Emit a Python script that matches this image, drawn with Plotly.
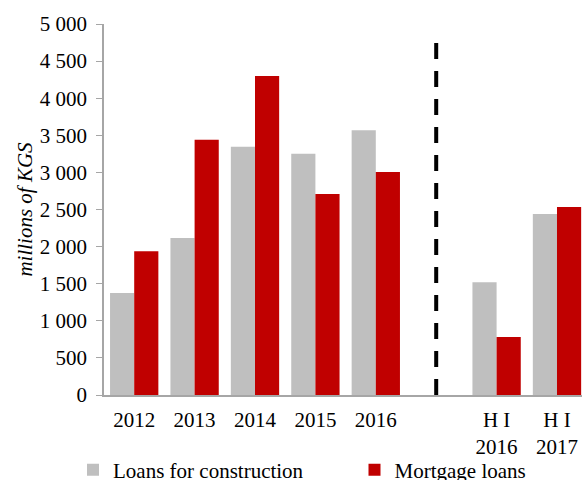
import plotly.graph_objects as go

categories = ["2012", "2013", "2014", "2015", "2016", "", "H I<br>2016", "H I<br>2017"]
construction = [1375, 2116, 3346, 3252, 3567, None, 1519, 2439]
mortgage = [1937, 3440, 4299, 2709, 3005, None, 782, 2534]
y_ticks = [0, 500, 1000, 1500, 2000, 2500, 3000, 3500, 4000, 4500, 5000]
y_tick_text = ["0", "500", "1 000", "1 500", "2 000", "2 500", "3 000", "3 500", "4 000", "4 500", "5 000"]
divider_index = 5
divider_top = 4780

xpos = list(range(len(categories)))
font = "Liberation Serif, Times New Roman, serif"
fs = 21
W, H = 582, 480

fig = go.Figure()
fig.add_trace(go.Bar(x=xpos, y=construction, name="Loans for construction",
                     marker=dict(color="#BFBFBF", line=dict(width=0)), legend="legend"))
fig.add_trace(go.Bar(x=xpos, y=mortgage, name="Mortgage loans",
                     marker=dict(color="#C00000", line=dict(width=0)), legend="legend2"))

fig.add_shape(type="line", xref="x", yref="y", x0=divider_index, x1=divider_index,
              y0=0, y1=divider_top, line=dict(color="black", width=4, dash="16px,12px"))

leg_common = dict(orientation="h", yref="container", y=10 / H, yanchor="middle",
                  xref="container", xanchor="left", font=dict(size=fs),
                  itemwidth=30, bgcolor="rgba(0,0,0,0)")

fig.update_layout(
    width=W, height=H,
    margin=dict(l=104, r=0, t=24, b=85, autoexpand=False),
    paper_bgcolor="white", plot_bgcolor="white",
    barmode="group", bargap=0.2, bargroupgap=0,
    font=dict(family=font, size=fs, color="black"),
    showlegend=True,
    legend=dict(x=73 / W, **leg_common),
    legend2=dict(x=354.5 / W, **leg_common),
    xaxis=dict(tickmode="array", tickvals=xpos, ticktext=categories,
               range=[-0.5, 7.414], showgrid=False, zeroline=False,
               showline=True, linecolor="#A6A6A6", linewidth=1.5,
               ticks="", tickfont=dict(size=fs), ticklabelstandoff=5,
               ticklabeloverflow="allow"),
    yaxis=dict(range=[0, 5000], tickmode="array", tickvals=y_ticks, ticktext=y_tick_text,
               showgrid=False, zeroline=False, showline=True, linecolor="#A6A6A6",
               linewidth=1.5, ticks="outside", ticklen=6, tickcolor="#A6A6A6",
               tickfont=dict(size=fs), ticklabelstandoff=5,
               title=dict(text="<i>millions of KGS</i>", font=dict(size=fs), standoff=1)),
)

fig.write_html(
    "out.html",
    config={"displayModeBar": False},
    post_script="document.body.style.margin='0';document.body.style.overflow='hidden';",
)
